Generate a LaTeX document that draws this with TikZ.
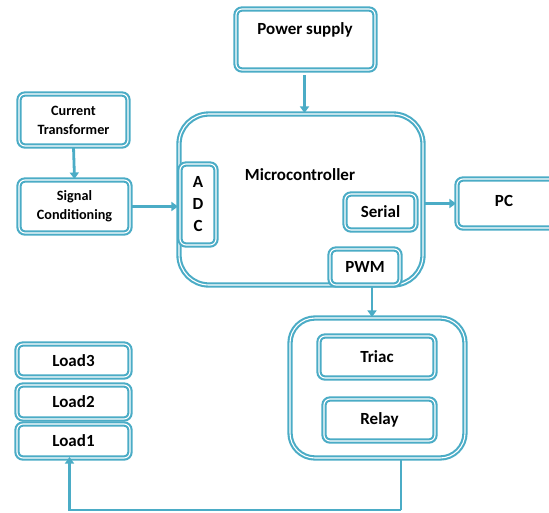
\documentclass[tikz,border=0pt]{standalone}
\usepackage{fontspec}
\setmainfont{Carlito}
\usetikzlibrary{arrows.meta}
\definecolor{aqua}{HTML}{4BACC6}
\tikzset{
  box/.style={draw=aqua, double=white, double distance=1.1pt, line width=2.1pt,
    rounded corners=6pt, fill=white, inner sep=0pt, align=center,
    font=\fontsize{17}{22}\selectfont\bfseries},
  smalltxt/.style={font=\fontsize{14.2}{19}\selectfont\bfseries},
  lbl/.style={font=\fontsize{17}{22}\selectfont\bfseries, inner sep=0pt},
  arr/.style={draw=aqua, line width=2.8pt, -{Triangle[width=9pt,length=6.5pt]}},
  ln/.style={draw=aqua, line width=2.8pt}
}
\begin{document}
\begin{tikzpicture}[x=1pt,y=-1pt]
\useasboundingbox (0,0) rectangle (549,512);
% boxes
\node[box, minimum width=139pt, minimum height=61pt] (ps) at (305.5,39.5) {};
\node[lbl] (pstxt) at (305,30) {Power supply};
\node[box, smalltxt, minimum width=109pt, minimum height=52pt] (ct) at (73.5,120) {Current\\Transformer};
\node[box, smalltxt, minimum width=111pt, minimum height=53pt] (sc) at (74.5,206.5) {Signal\\Conditioning};
\node[box, rounded corners=30pt, minimum width=244pt, minimum height=171pt] (mc) at (301,199.5) {};
\node[lbl] (mctxt) at (300,175) {Microcontroller};
\node[box, minimum width=36pt, minimum height=81pt] (adc) at (198,204.5) {A\\D\\C};
\node[box, minimum width=71pt, minimum height=36pt] (serial) at (380.5,212) {Serial};
\node[box, minimum width=70pt, minimum height=36pt] (pwm) at (365,267) {PWM};
\node[box, minimum width=103pt, minimum height=49pt] (pc) at (508.5,203.5) {};
\node[lbl] (pctxt) at (504,201) {PC};
\node[box, rounded corners=25pt, minimum width=175pt, minimum height=140pt] (cont) at (377.5,388) {};
\node[box, minimum width=116pt, minimum height=42pt] (triac) at (377,357) {Triac};
\node[box, minimum width=111pt, minimum height=42pt] (relay) at (379.5,420) {Relay};
\node[box, minimum width=113pt, minimum height=33pt] (load3) at (73.5,360.5) {Load3};
\node[box, minimum width=113pt, minimum height=34pt] (load2) at (73.5,402) {Load2};
\node[box, minimum width=113pt, minimum height=34pt] (load1) at (73.5,441) {Load1};
% connectors
\draw[arr, shorten <=4pt] ([xshift=-1pt]ps.south) -- ([xshift=-1pt]ps.south |- mc.north);
\draw[arr] (ct.south) -- (sc.north);
\draw[arr] (sc.east) -- (sc.east -| mc.west);
\draw[arr] (pc.west -| mc.east) -- (pc.west);
\draw[arr] ([xshift=7pt]pwm.south) -- ([xshift=7pt]pwm.south |- cont.north);
\coordinate (bot) at (401,510);
\draw[ln] (bot |- cont.south) -- (bot);
\draw[arr] (bot) -| ([xshift=-4pt,yshift=2pt]load1.south);
\end{tikzpicture}
\end{document}
